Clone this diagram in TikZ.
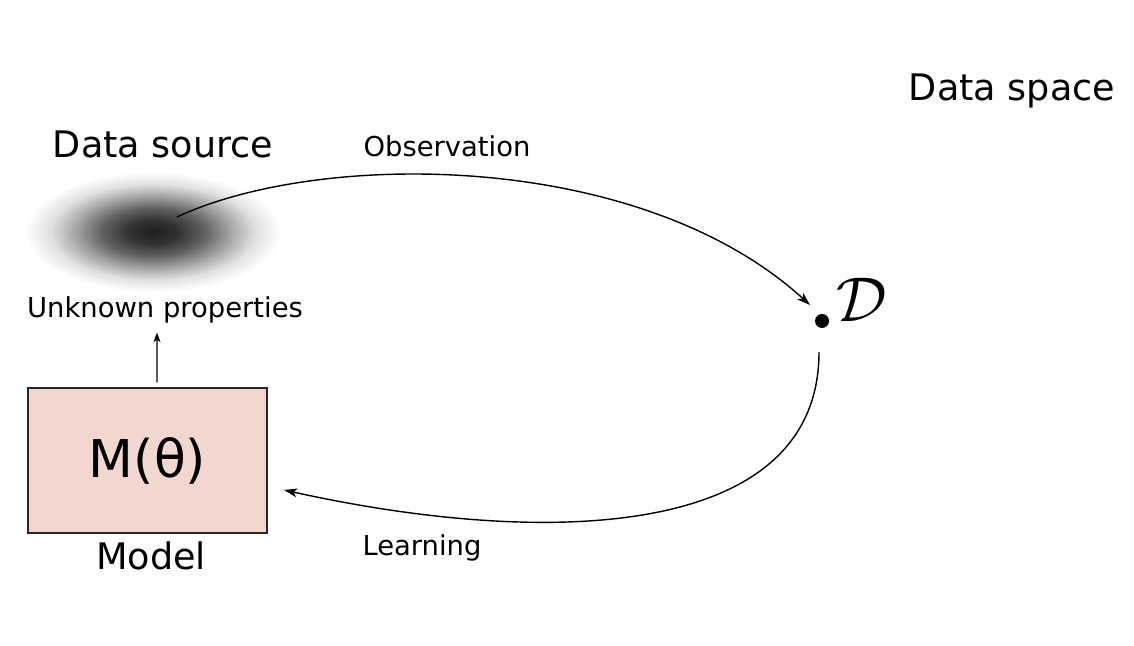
\documentclass[tikz,border=0pt]{standalone}
\usepackage{fix-cm}
\usepackage{fontspec}
\setmainfont{DejaVu Sans}
\usetikzlibrary{arrows.meta}
\definecolor{modelfill}{HTML}{F2D7D0}
\tikzset{>={Stealth[length=7.5pt,width=5pt,inset=2pt]}}
\tikzset{modelbox/.style = {shape=rectangle,draw=black!85,line width=0.85pt,fill=modelfill,minimum width=4.78cm,minimum height=2.9cm,inner sep=0pt}}
\tikzset{biglabel/.style = {font=\fontsize{20.8}{25}\selectfont,inner sep=0pt,anchor=base}}
\tikzset{smalllabel/.style = {font=\fontsize{15.6}{19}\selectfont,inner sep=0pt,anchor=base}}
\tikzset{dot/.style = {shape=circle,fill=black,inner sep=0pt,minimum size=0.28cm}}
\pgfdeclareradialshading{blob}{\pgfpoint{0bp}{0bp}}{color(0bp)=(black!88); color(5bp)=(black!80); color(10bp)=(black!62); color(15bp)=(black!36); color(20bp)=(black!12); color(25bp)=(white); color(50bp)=(white)}

\begin{document}
\begin{tikzpicture}[x=0.02cm,y=-0.02cm]
    \useasboundingbox (0,0) rectangle (1134,646);
    \shade[shading=blob] (153,232) ellipse [x radius=128, y radius=60];

    \node[biglabel] (srclabel) at (163,157) {Data source};
    \node[biglabel] (spacelabel) at (1012,100) {Data space};
    \node[modelbox] (model) at (147.5,460.5) {\fontsize{29.6}{34}\selectfont M(θ)};
    \node[biglabel] (modellabel) at (151,569) {Model};
    \node[smalllabel] (unk) at (165,317) {Unknown properties};
    \node[smalllabel] (obs) at (447,156) {Observation};
    \node[smalllabel] (learn) at (422,555) {Learning};
    \node[dot] (data) at (822,321) {};
    \node[inner sep=0pt] (dlabel) at (862,300) {\fontsize{36}{40}\selectfont$\mathcal{D}$};

    \coordinate (src) at (177,217);
    \coordinate (obsend) at (810,305);
    \coordinate (learnstart) at (819,352);
    \coordinate (learnend) at (284,490);

    \draw[->,line width=0.8pt] (src) .. controls (320,150) and (640,150) .. (obsend);
    \draw[->,line width=0.8pt] (learnstart) .. controls (819,540) and (546,548) .. (learnend);
    \draw[-{Stealth[length=5.5pt,width=4pt,inset=1.5pt]},line width=0.7pt] ([xshift=0.19cm,yshift=0.1cm]model.north) -- ([xshift=-0.16cm,yshift=-0.19cm]unk.south);
\end{tikzpicture}
\end{document}
